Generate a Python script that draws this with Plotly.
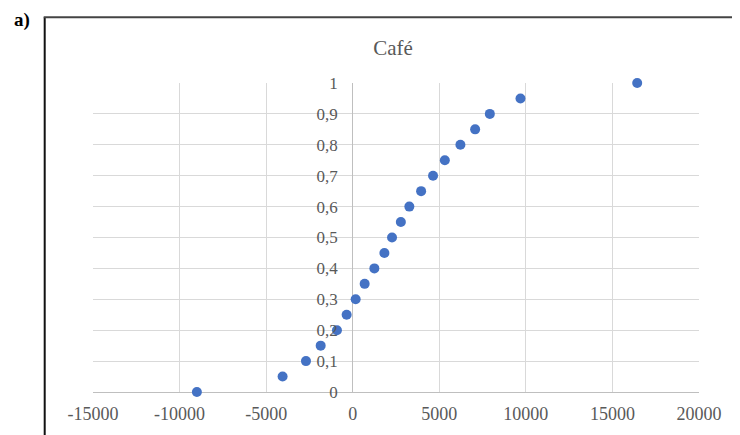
import plotly.graph_objects as go

# Data
x_values = [-9000, -4050, -2700, -1850, -910, -350, 170, 690, 1250, 1830, 2270,
            2780, 3270, 3950, 4640, 5320, 6220, 7070, 7920, 9690, 16430]
y_values = [0, 0.05, 0.1, 0.15, 0.2, 0.25, 0.3, 0.35, 0.4, 0.45, 0.5,
            0.55, 0.6, 0.65, 0.7, 0.75, 0.8, 0.85, 0.9, 0.95, 1.0]
x_tickvals = [-15000, -10000, -5000, 0, 5000, 10000, 15000, 20000]
x_ticktext = ["-15000", "-10000", "-5000", "0", "5000", "10000", "15000", "20000"]
y_tickvals = [0, 0.1, 0.2, 0.3, 0.4, 0.5, 0.6, 0.7, 0.8, 0.9, 1.0]
y_ticktext = ["0", "0,1", "0,2", "0,3", "0,4", "0,5", "0,6", "0,7", "0,8", "0,9", "1"]
title_text = "Café"
panel_label = "a)"

W, H = 740, 435
OFF = 8  # page body margin offset
# target positions in the window
PL, PR, PT, PB = 93.3, 699.3, 83.3, 392.3
ML = PL - OFF
MT = PT - OFF
MR = W - (PR - OFF)
MB = H - (PB - OFF)
XMIN, XMAX = -15000, 20000
pw = W - ML - MR
ph = H - MT - MB

fig = go.Figure()
fig.add_trace(go.Scatter(
    x=x_values, y=y_values, mode="markers",
    marker=dict(color="#4472C4", size=10, line=dict(width=0)),
    cliponaxis=False, showlegend=False, hoverinfo="x+y"))

serif = "Liberation Serif, Times New Roman, serif"
fig.update_layout(
    width=W, height=H,
    margin=dict(l=ML, r=MR, t=MT, b=MB, pad=0),
    paper_bgcolor="white", plot_bgcolor="white",
    font=dict(family=serif, color="#595959", size=17),
    title=dict(text=title_text, xref="container", yref="container",
               x=(393 - OFF) / W, y=1 - (48 - OFF) / H, xanchor="center", yanchor="middle",
               font=dict(family=serif, size=21, color="#595959")),
    xaxis=dict(range=[XMIN, XMAX], domain=[0, 1], tickvals=x_tickvals, ticktext=x_ticktext,
               showgrid=True, gridcolor="#d9d9d9", gridwidth=1,
               zeroline=True, zerolinecolor="#bfbfbf", zerolinewidth=1,
               showline=False, ticks="", ticklabelstandoff=9,
               tickfont=dict(family=serif, size=18, color="#595959"), fixedrange=True),
    yaxis=dict(range=[0, 1], tickvals=y_tickvals, ticktext=y_ticktext,
               anchor="free", position=(0 - XMIN) / (XMAX - XMIN),
               showgrid=True, gridcolor="#d9d9d9", gridwidth=1,
               zeroline=True, zerolinecolor="#bfbfbf", zerolinewidth=1,
               showline=False, ticks="", ticklabelstandoff=15,
               tickfont=dict(family=serif, size=17, color="#595959"), fixedrange=True),
)

def px_to_paper_x(px):
    return (px - OFF - ML) / pw

def px_to_paper_y(py):
    return (H - MB - (py - OFF)) / ph

# outer chart box (left and top edges visible)
fig.add_shape(type="line", xref="paper", yref="paper",
              x0=px_to_paper_x(45), x1=px_to_paper_x(45),
              y0=px_to_paper_y(17.5), y1=px_to_paper_y(H + 20),
              line=dict(color="#111111", width=2))
fig.add_shape(type="line", xref="paper", yref="paper",
              x0=px_to_paper_x(44), x1=px_to_paper_x(W + 20),
              y0=px_to_paper_y(17.5), y1=px_to_paper_y(17.5),
              line=dict(color="#444444", width=2))

fig.add_annotation(text="<b>" + panel_label + "</b>", xref="paper", yref="paper",
                   x=px_to_paper_x(12), y=px_to_paper_y(20), xanchor="left", yanchor="middle",
                   showarrow=False, font=dict(family=serif, size=19, color="#000000"))

fig.write_html("out.html")
